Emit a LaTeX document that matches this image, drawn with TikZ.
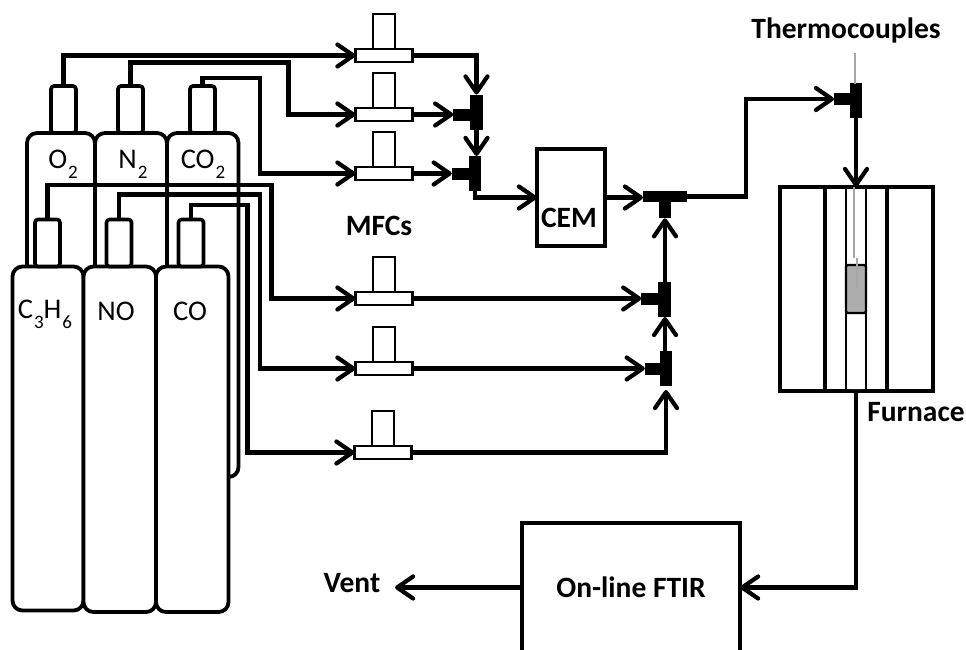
\documentclass[tikz,border=0pt]{standalone}
\usepackage{fontspec}
\setmainfont{Carlito}
\usetikzlibrary{arrows.meta}
\tikzset{
 x=1pt,y=-1pt,
 pipe/.style={line width=4.2pt,line join=miter,-{Straight Barb[length=16pt,width=22pt,line width=4.2pt,round]}},
 body/.style={draw,line width=3.8pt,rounded corners=10pt,fill=white,inner sep=0pt,outer sep=0pt,anchor=north west},
 neck/.style={draw,line width=3.6pt,rounded corners=3pt,fill=white,minimum width=25pt,minimum height=47pt,inner sep=0pt,outer sep=0pt,anchor=south},
 mfcneck/.style={draw,line width=2.4pt,fill=white,minimum width=22pt,minimum height=35pt,inner sep=0pt,outer sep=0pt},
 mfcbase/.style={draw,line width=2.6pt,fill=white,minimum width=57pt,minimum height=13pt,inner sep=0pt,outer sep=0pt},
 tbar/.style={fill=black,minimum width=12.5pt,minimum height=35pt,inner sep=0pt,outer sep=0pt},
 tstub/.style={fill=black,minimum width=17pt,minimum height=12pt,inner sep=0pt,outer sep=0pt},
 lab/.style={inner sep=0pt,anchor=base,font=\fontsize{28.5}{28.5}\selectfont},
 blab/.style={inner sep=0pt,anchor=base,font=\fontsize{29.5}{29.5}\selectfont\bfseries},
}
\newcommand{\lowsub}[1]{\kern1pt\raisebox{-10pt}{\fontsize{19}{19}\selectfont #1}}
\newcommand{\cyl}[6]{%
 \node[body,minimum width=#3pt,minimum height=#4pt] (#1) at (#2) {};
 \node[neck] (#1n) at (#5,#6) {};
}
\newcommand{\mfc}[3]{%
 \node[mfcneck,anchor=south] (#1n) at (#2,#3) {};
 \node[mfcbase,anchor=north] (#1) at (#2,#3) {};
}
\begin{document}
\begin{tikzpicture}
\useasboundingbox (0,0) rectangle (966,649);
% rear cylinders
\cyl{oxy}{27,133}{68}{330}{63.5}{133}
\cyl{nit}{95,133}{72}{330}{130.5}{133}
\cyl{cdi}{167,133}{71.5}{344}{202.5}{133}
\node[lab] at (63,168) {O\lowsub{2}};
\node[lab] at (133,168) {N\lowsub{2}};
\node[lab] at (203,168) {CO\lowsub{2}};
% front cylinders
\cyl{pro}{12.5,266.5}{71}{344}{47.5}{266.5}
\cyl{nox}{83.5,266.5}{72.5}{345.5}{119}{266.5}
\cyl{cmo}{156,266.5}{72.5}{345.5}{191}{266.5}
\node[lab] at (45,318) {C\lowsub{3}H\lowsub{6}};
\node[lab] at (116,320) {NO};
\node[lab] at (190,320) {CO};
% MFCs
\mfc{m1}{384}{49}
\mfc{m2}{384}{108}
\mfc{m3}{384}{167}
\mfc{m4}{384}{292}
\mfc{m5}{384}{362}
\mfc{m6}{383}{446}
% supply lines
\draw[pipe] (oxyn.north) |- (m1.west);
\draw[pipe] (nitn.north) |- (288.5,62.5) -- (288.5,114.5) -- (m2.west);
\draw[pipe] (cdin.north) |- (260,78) -- (260,173.5) -- (m3.west);
\draw[pipe] (pron.north) |- (271.5,185) -- (271.5,298.5) -- (m4.west);
\draw[pipe] (noxn.north) |- (260,194.5) -- (260,368.5) -- (m5.west);
\draw[pipe] (cmon.north) |- (247.5,205) -- (247.5,452.5) -- (m6.west);
% T pieces
\node[tbar] (t1) at (476.5,112) {};
\node[tstub,anchor=east] (t1s) at (t1.west|-m2) {};
\node[tbar] (t2) at (475,173.5) {};
\node[tstub,anchor=east] (t2s) at (t2.west|-m3) {};
\node[tbar,minimum width=44pt,minimum height=11.5pt] (t3) at (665,196.5) {};
\node[tstub,minimum width=12pt,minimum height=16pt,anchor=north] (t3s) at (t3.south) {};
\node[tbar] (t4) at (664.5,299.5) {};
\node[tstub,anchor=east] (t4s) at (t4.west|-m4) {};
\node[tbar] (t5) at (666,368.5) {};
\node[tstub,anchor=east,minimum width=15pt] (t5s) at (t5.west|-m5) {};
\node[tbar] (t6) at (856,100.5) {};
\node[tstub,anchor=east,minimum width=16pt] (t6s) at (850,99) {};
% CEM
\node[draw,line width=3.6pt,fill=white,minimum width=68pt,minimum height=97pt,inner sep=0pt,outer sep=0pt] (cem) at (571,197.5) {};
\node[blab] (cemt) at (569,227) {CEM};
% furnace
\node[draw,line width=3.8pt,fill=white,minimum width=153pt,minimum height=204pt,inner sep=0pt,outer sep=0pt] (fur) at (856.5,289) {};
\draw[line width=3.8pt] (825,187) -- (825,391);
\draw[line width=3.8pt] (887,187) -- (887,391);
\draw[line width=2.8pt] (846,187) -- (846,391);
\draw[line width=2.8pt] (866,187) -- (866,391);
\node[draw=none,fill=white,minimum width=17pt,minimum height=200pt,inner sep=0pt,outer sep=0pt,rounded corners=1.5pt] (tube) at (856,289) {};
\node[draw,line width=2.4pt,fill=black!32,rounded corners=1.5pt,minimum width=20pt,minimum height=48pt,inner sep=0pt,outer sep=0pt] (sample) at (856,289) {};
% thermocouple
\draw[black!35,line width=2.4pt] (855,53) -- (855,84);
\draw[black!35,line width=1.6pt] (854,187) -- (854,258);
\draw[black!35,line width=1.2pt] (857,258) -- (857,288);
% pipes right
\draw[pipe] (m1.east) -| (t1.north);
\draw[pipe] (m2.east) -- (t1s.west);
\draw[pipe] (m3.east) -- (t2s.west);
\draw[pipe] (t1.south) -- (t2.north-|t1.south);
\draw[pipe] (t2.south) |- (cem.west);
\draw[pipe] (cem.east) -- (t3.west|-cem.east);
\draw[pipe] (t4.north-|t3s.south) -- (t3s.south);
\draw[pipe] (m4.east) -- (t4s.west);
\draw[pipe] (m5.east) -- (t5s.west);
\draw[pipe] (t5.north-|t3s.south) -- (t4.south-|t3s.south);
\coordinate (t5in) at (666,390);
\draw[pipe] (m6.east) -| (t5in);
\draw[pipe] (t3.east) -| (746,99) -- (t6s.west);
\draw[pipe] (t6.south) -- (fur.north-|t6.south);
% FTIR
\node[draw,line width=3.8pt,fill=white,minimum width=218pt,minimum height=140pt,inner sep=0pt,outer sep=0pt,anchor=north west] (ftir) at (522,523) {};
\node[blab] at (631,597) {On-line FTIR};
\draw[pipe] (fur.south-|sample.south) |- (ftir.east|-0,587.5);
\coordinate (vent) at (395,587.5);
\draw[pipe] (ftir.west|-0,587.5) -- (vent);
% labels
\node[blab] at (379,235) {MFCs};
\node[blab] at (846,38) {Thermocouples};
\node[blab] at (916,421) {Furnace};
\node[blab] at (352,592) {Vent};
\end{tikzpicture}
\end{document}
